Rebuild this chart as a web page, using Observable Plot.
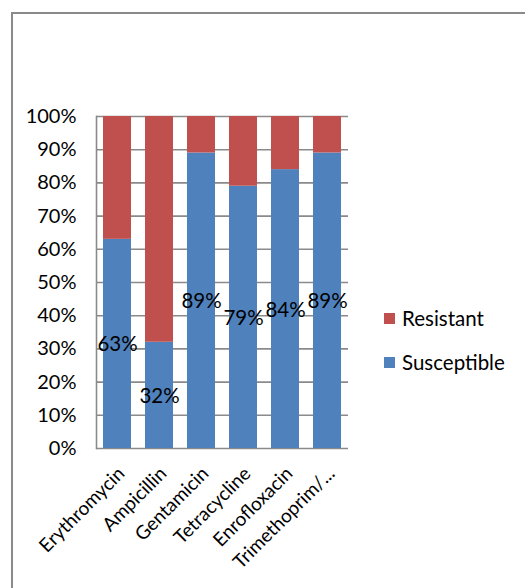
<!DOCTYPE html>
<html>
<head>
<meta charset="utf-8">
<script src="https://cdn.jsdelivr.net/npm/d3@7"></script>
<script src="https://cdn.jsdelivr.net/npm/@observablehq/plot@0.6"></script>
<style>
  html, body { margin: 0; padding: 0; background: #fff; }
  #page { position: relative; width: 525px; height: 588px; overflow: hidden; font-family: Lato, "Open Sans", sans-serif; }
  #border { position: absolute; left: 11px; top: 12px; width: 600px; height: 700px; border: 2px solid #8a8a8a; box-sizing: border-box; }
  #chart { position: absolute; left: 0; top: 0; }
  #legend { position: absolute; left: 384px; top: 306px; font-size: 20.5px; color: #000; }
  .li { display: flex; align-items: center; height: 24px; margin-bottom: 20px; }
  .sw { width: 11px; height: 11px; margin-right: 7px; }
</style>
</head>
<body>
<div id="page">
  <div id="border"></div>
  <div id="chart"></div>
  <div id="legend"></div>
</div>
<script>
const drugs = ["Erythromycin", "Ampicillin", "Gentamicin", "Tetracycline", "Enrofloxacin", "Trimethoprim/..."];
const susceptible = [63, 32, 89, 79, 84, 89];
const resistant = [37, 68, 11, 21, 16, 11];
const seriesNames = ["Susceptible", "Resistant"];
const seriesColors = ["#4F81BD", "#C0504D"];
const yTicks = [0, 10, 20, 30, 40, 50, 60, 70, 80, 90, 100];

const rows = [];
drugs.forEach((d, i) => {
  rows.push({drug: d, series: "Susceptible", value: susceptible[i] / 100});
  rows.push({drug: d, series: "Resistant", value: resistant[i] / 100});
});
const labels = drugs.map((d, i) => ({drug: d, value: susceptible[i] / 100, text: susceptible[i] + "%"}));

const plot = Plot.plot({
  width: 525,
  height: 588,
  marginLeft: 96,
  marginRight: 177,
  marginTop: 116,
  marginBottom: 140,
  style: {fontFamily: "Lato, 'Open Sans', sans-serif", fontSize: "20px", color: "#000", background: "transparent"},
  x: {domain: drugs, paddingInner: 0.33, paddingOuter: 0.165, label: null},
  y: {domain: [0, 1], label: null},
  color: {domain: seriesNames, range: seriesColors},
  marks: [
    Plot.ruleY(yTicks.map(t => t / 100), {stroke: "#8a8a8a", strokeWidth: 1.6}),
    Plot.frame({anchor: "left", stroke: "#8a8a8a", strokeWidth: 1.6}),
    Plot.barY(rows, {x: "drug", y: "value", fill: "series", order: seriesNames}),
    Plot.text(labels, {x: "drug", y: d => d.value / 2, text: "text", fontSize: 20.5, fill: "#000", dy: 1}),
    Plot.axisY(yTicks.map(t => t / 100), {tickFormat: d3.format(".0%"), tickSize: 0, tickPadding: 20, fontSize: 20}),
    Plot.axisX({tickRotate: -45, tickSize: 0, tickPadding: 22, dx: 4, fontSize: 19})
  ]
});
document.getElementById("chart").appendChild(plot);

const legend = document.getElementById("legend");
[["Resistant", "#C0504D"], ["Susceptible", "#4F81BD"]].forEach(([name, col]) => {
  const li = document.createElement("div");
  li.className = "li";
  li.innerHTML = `<div class="sw" style="background:${col}"></div><span>${name}</span>`;
  legend.appendChild(li);
});
</script>
</body>
</html>
